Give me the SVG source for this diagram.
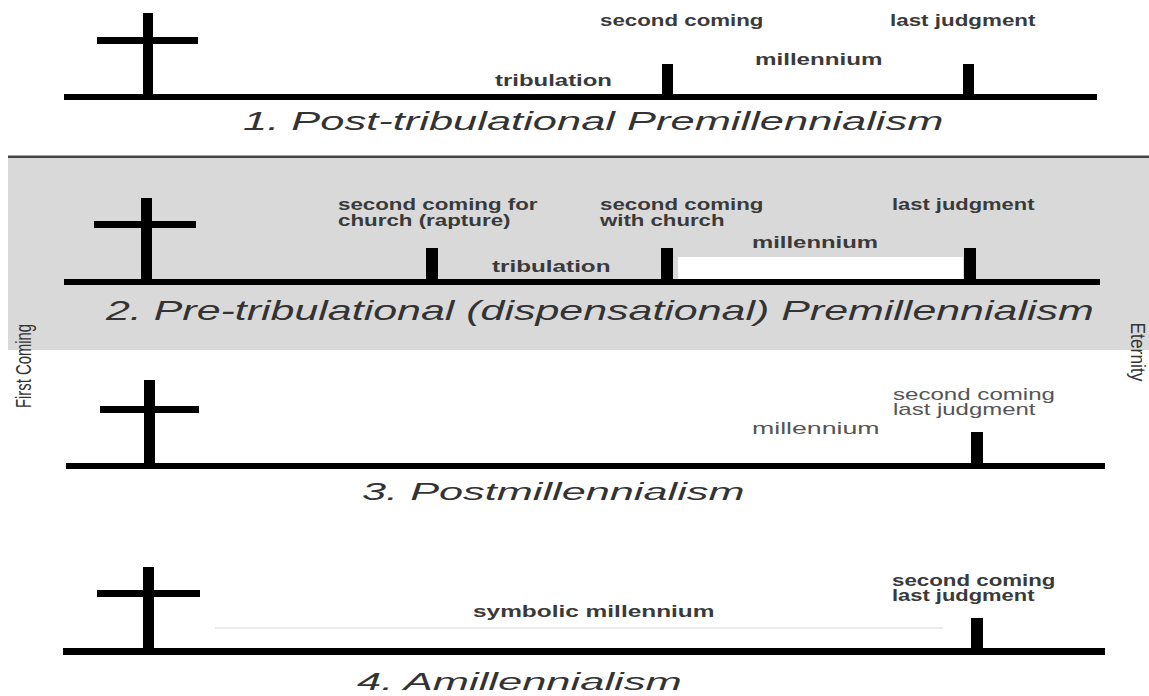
<svg xmlns="http://www.w3.org/2000/svg" width="1149" height="696" viewBox="0 0 1149 696">
  <defs>
    <style>
      .bar { fill: #000; }
      .lbl { font-family: "Liberation Sans", Arial, sans-serif; font-size: 16px; font-weight: bold; fill: #3a3a3a; }
      .lt { font-weight: normal; fill: #555; }
      .title { font-family: "Liberation Sans", Arial, sans-serif; font-style: italic; fill: #333; }
      .side { font-family: "Liberation Sans", Arial, sans-serif; fill: #333; text-anchor: middle; }
    </style>
  </defs>
  <rect x="0" y="0" width="1149" height="696" fill="#fff"/>

  <!-- Panel 2 background band -->
  <g id="band2">
    <rect x="8" y="157" width="1141" height="193" fill="#d9d9d9"/>
    <rect x="8" y="155.5" width="1141" height="2.5" fill="#444"/>
  </g>

  <g id="connectors"/>

  <!-- Panel 1 -->
  <g id="panel1">
    <rect class="bar" x="64" y="94" width="1033" height="6"/>
    <g id="p1-cross">
      <rect class="bar" x="143" y="13" width="10" height="84"/>
      <rect class="bar" x="97" y="37" width="101" height="7"/>
    </g>
    <rect id="p1-tick-second" class="bar" x="662" y="64" width="11" height="33"/>
    <rect id="p1-tick-last" class="bar" x="963" y="64" width="11" height="33"/>
    <text class="lbl" transform="translate(600,26) scale(1.5,1)" textLength="109" lengthAdjust="spacingAndGlyphs">second coming</text>
    <text class="lbl" transform="translate(890,26) scale(1.5,1)" textLength="97" lengthAdjust="spacingAndGlyphs">last judgment</text>
    <text class="lbl" transform="translate(755,65) scale(1.5,1)" textLength="85" lengthAdjust="spacingAndGlyphs">millennium</text>
    <text class="lbl" transform="translate(495,86) scale(1.5,1)" textLength="78" lengthAdjust="spacingAndGlyphs">tribulation</text>
    <text class="title" font-size="25" transform="translate(243,130) scale(1.7,1)" textLength="412" lengthAdjust="spacingAndGlyphs">1. Post-tribulational Premillennialism</text>
  </g>

  <!-- Panel 2 -->
  <g id="panel2">
    <rect x="678" y="257" width="285" height="22" fill="#fff"/>
    <rect class="bar" x="64" y="279" width="1036" height="6"/>
    <g id="p2-cross">
      <rect class="bar" x="141" y="198" width="11" height="84"/>
      <rect class="bar" x="94" y="221" width="102" height="7"/>
    </g>
    <rect id="p2-tick-rapture" class="bar" x="426" y="248" width="12" height="34"/>
    <rect id="p2-tick-second" class="bar" x="661" y="248" width="12" height="34"/>
    <rect id="p2-tick-last" class="bar" x="964" y="248" width="12" height="34"/>
    <text class="lbl" transform="translate(338,210) scale(1.5,1)" textLength="133" lengthAdjust="spacingAndGlyphs">second coming for</text>
    <text class="lbl" transform="translate(338,226) scale(1.5,1)" textLength="115" lengthAdjust="spacingAndGlyphs">church (rapture)</text>
    <text class="lbl" transform="translate(600,210) scale(1.5,1)" textLength="109" lengthAdjust="spacingAndGlyphs">second coming</text>
    <text class="lbl" transform="translate(600,226) scale(1.5,1)" textLength="83" lengthAdjust="spacingAndGlyphs">with church</text>
    <text class="lbl" transform="translate(892,210) scale(1.5,1)" textLength="95" lengthAdjust="spacingAndGlyphs">last judgment</text>
    <text class="lbl" transform="translate(752,248) scale(1.5,1)" textLength="84" lengthAdjust="spacingAndGlyphs">millennium</text>
    <text class="lbl" transform="translate(492,272) scale(1.5,1)" textLength="79" lengthAdjust="spacingAndGlyphs">tribulation</text>
    <text class="title" font-size="27" transform="translate(106,320) scale(1.7,1)" textLength="581" lengthAdjust="spacingAndGlyphs">2. Pre-tribulational (dispensational) Premillennialism</text>
  </g>

  <!-- Panel 3 -->
  <g id="panel3">
    <rect class="bar" x="66" y="463" width="1039" height="6"/>
    <g id="p3-cross">
      <rect class="bar" x="144" y="380" width="11" height="86"/>
      <rect class="bar" x="100" y="406" width="99" height="7"/>
    </g>
    <rect id="p3-tick" class="bar" x="971" y="432" width="12" height="34"/>
    <text class="lbl lt" transform="translate(893,400) scale(1.5,1)" textLength="108" lengthAdjust="spacingAndGlyphs">second coming</text>
    <text class="lbl lt" transform="translate(893,415) scale(1.5,1)" textLength="95" lengthAdjust="spacingAndGlyphs">last judgment</text>
    <text class="lbl lt" transform="translate(752,434) scale(1.5,1)" textLength="85" lengthAdjust="spacingAndGlyphs">millennium</text>
    <text class="title" font-size="24" transform="translate(362,500) scale(1.7,1)" textLength="225" lengthAdjust="spacingAndGlyphs">3. Postmillennialism</text>
  </g>

  <!-- Panel 4 -->
  <g id="panel4">
    <rect x="215" y="627" width="728" height="2" fill="#ebebeb"/>
    <rect class="bar" x="63" y="648" width="1042" height="7"/>
    <g id="p4-cross">
      <rect class="bar" x="143" y="567" width="11" height="84"/>
      <rect class="bar" x="97" y="590" width="103" height="7"/>
    </g>
    <rect id="p4-tick" class="bar" x="971" y="618" width="12" height="34"/>
    <text class="lbl" transform="translate(892,586) scale(1.5,1)" textLength="109" lengthAdjust="spacingAndGlyphs">second coming</text>
    <text class="lbl" transform="translate(892,601) scale(1.5,1)" textLength="95" lengthAdjust="spacingAndGlyphs">last judgment</text>
    <text class="lbl" transform="translate(473,617) scale(1.5,1)" textLength="161" lengthAdjust="spacingAndGlyphs">symbolic millennium</text>
    <text class="title" font-size="24" transform="translate(357,690) scale(1.7,1)" textLength="191" lengthAdjust="spacingAndGlyphs">4. Amillennialism</text>
  </g>

  <!-- Side labels -->
  <g id="first-coming">
    <text class="side" font-size="16" transform="translate(31,366) scale(1.35,1) rotate(-90)" textLength="84" lengthAdjust="spacingAndGlyphs">First Coming</text>
  </g>
  <g id="eternity">
    <text class="side" font-size="17" transform="translate(1131,352) scale(1.2,1) rotate(90)" textLength="59" lengthAdjust="spacingAndGlyphs">Eternity</text>
  </g>
</svg>
